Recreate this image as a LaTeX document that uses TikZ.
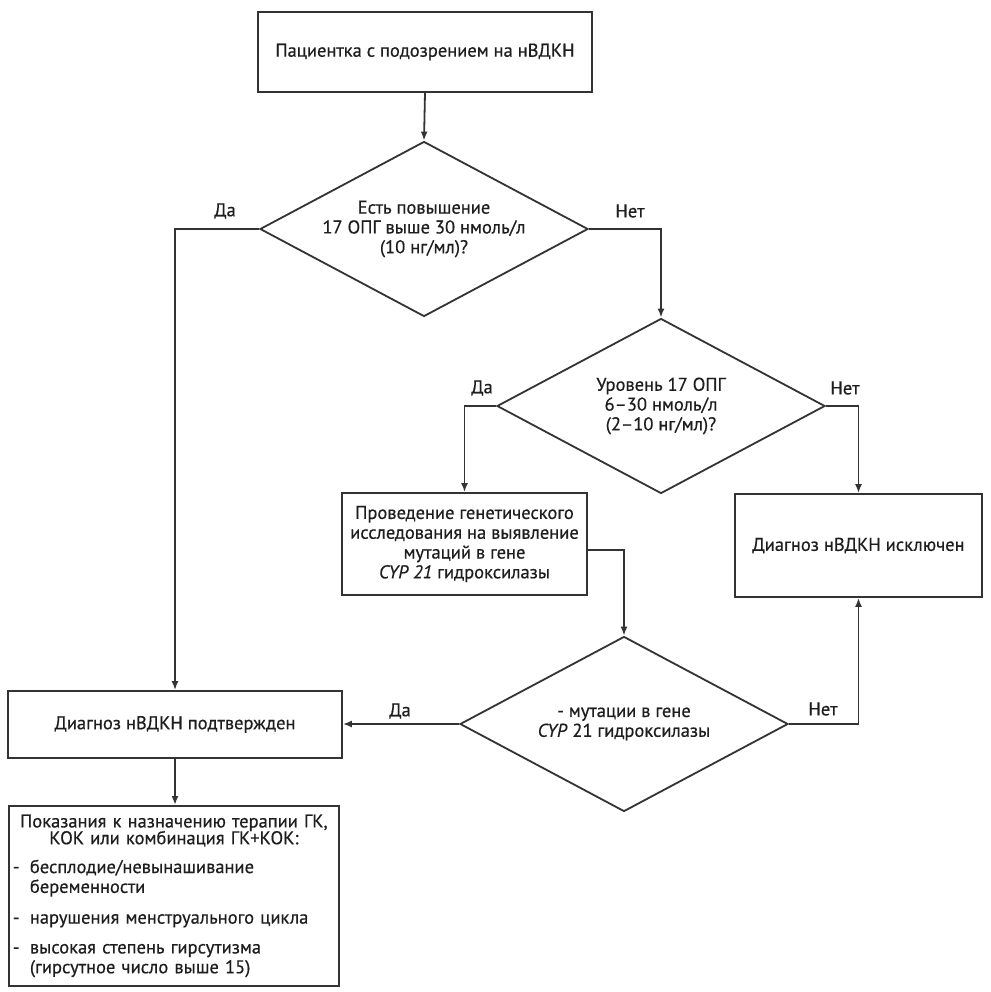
\documentclass[tikz,border=0pt]{standalone}
\usepackage{fontspec}
\setmainfont{PT Sans}[UprightFeatures={FakeBold=0.5},ItalicFeatures={FakeBold=0.5}]
\usetikzlibrary{arrows.meta, shapes.geometric}
\definecolor{ink}{HTML}{1E1E1E}
\definecolor{linec}{HTML}{333333}
\tikzset{
  base/.style={font=\fontsize{18.5}{19.8}\selectfont, text=ink},
  box/.style={base, draw=linec, line width=1.8pt, rectangle, align=center, inner sep=2pt},
  decision/.style={base, draw=linec, line width=1.8pt, shape=diamond, aspect=1.87,
     minimum width=328pt, minimum height=175pt, inner sep=0pt, align=center},
  lbl/.style={base},
  conn/.style={draw=linec, line width=1.8pt, -{Latex[length=9pt,width=7pt]}},
  plain/.style={draw=linec, line width=1.8pt}
}
\newcommand{\dashitem}[2]{\noindent\makebox[17pt][l]{-}#1\par
  \ifx\relax#2\relax\else\noindent\hspace*{17pt}#2\par\fi}
\begin{document}
\begin{tikzpicture}[x=1pt,y=-1pt]
\useasboundingbox (0,0) rectangle (990,992);
\fill[white] (0,0) rectangle (990,992);

\node[box, minimum width=334pt, minimum height=80pt] (top) at (425,52) {Пациентка с подозрением на нВДКН};
\node[decision] (d1) at (424,229) {Есть повышение\\17 ОПГ выше 30 нмоль/л\\(10 нг/мл)?};
\node[decision] (d2) at (661,406) {Уровень 17 ОПГ\\6–30 нмоль/л\\(2–10 нг/мл)?};
\node[box, minimum width=245pt, minimum height=102pt] (gen) at (464.5,544) {Проведение генетического\\исследования на выявление\\мутаций в гене\\\textit{CYP 21} гидроксилазы};
\node[box, minimum width=247pt, minimum height=103pt] (excl) at (858.5,545.5) {Диагноз нВДКН исключен};
\node[decision] (d3) at (624,724) {- мутации в гене\\\textit{CYP} 21 гидроксилазы};
\node[box, minimum width=334pt, minimum height=67pt] (conf) at (175,724.5) {Диагноз нВДКН подтвержден};
\node[box, anchor=north west, text width=322pt, inner sep=4pt, minimum height=180pt, align=left] (ind) at (8,805) {%
 \vspace*{-3pt}{\centering Показания к назначению терапии ГК,\\ КОК или комбинация ГК+КОК:\par}
 \vspace{9pt}\dashitem{бесплодие/невынашивание}{беременности}
 \vspace{11pt}\dashitem{нарушения менструального цикла}{}
 \vspace{10pt}\dashitem{высокая степень гирсутизма}{(гирсутное число выше 15)}};

\node[lbl] (l1) at (225,211) {Да};
\node[lbl] (l2) at (630,211) {Нет};
\node[lbl] (l3) at (482,388) {Да};
\node[lbl] (l4) at (845,388) {Нет};
\node[lbl] (l5) at (400,711) {Да};
\node[lbl] (l6) at (823,709) {Нет};

\draw[conn] (top.south) -- (d1.north);
\draw[conn] (d1.west) -| (conf.north);
\draw[conn] (d1.east) -| (d2.north);
\draw[conn] (d2.west) -| (gen.north);
\draw[conn] (d2.east) -| (excl.north);
\draw[conn] ([yshift=-6pt]gen.east) -| (d3.north);
\draw[conn] (d3.west) -- (conf.east |- d3.west);
\draw[conn] (d3.east) -| (excl.south);
\draw[conn] (conf.south) -- (conf.south |- ind.north);
\end{tikzpicture}
\end{document}
